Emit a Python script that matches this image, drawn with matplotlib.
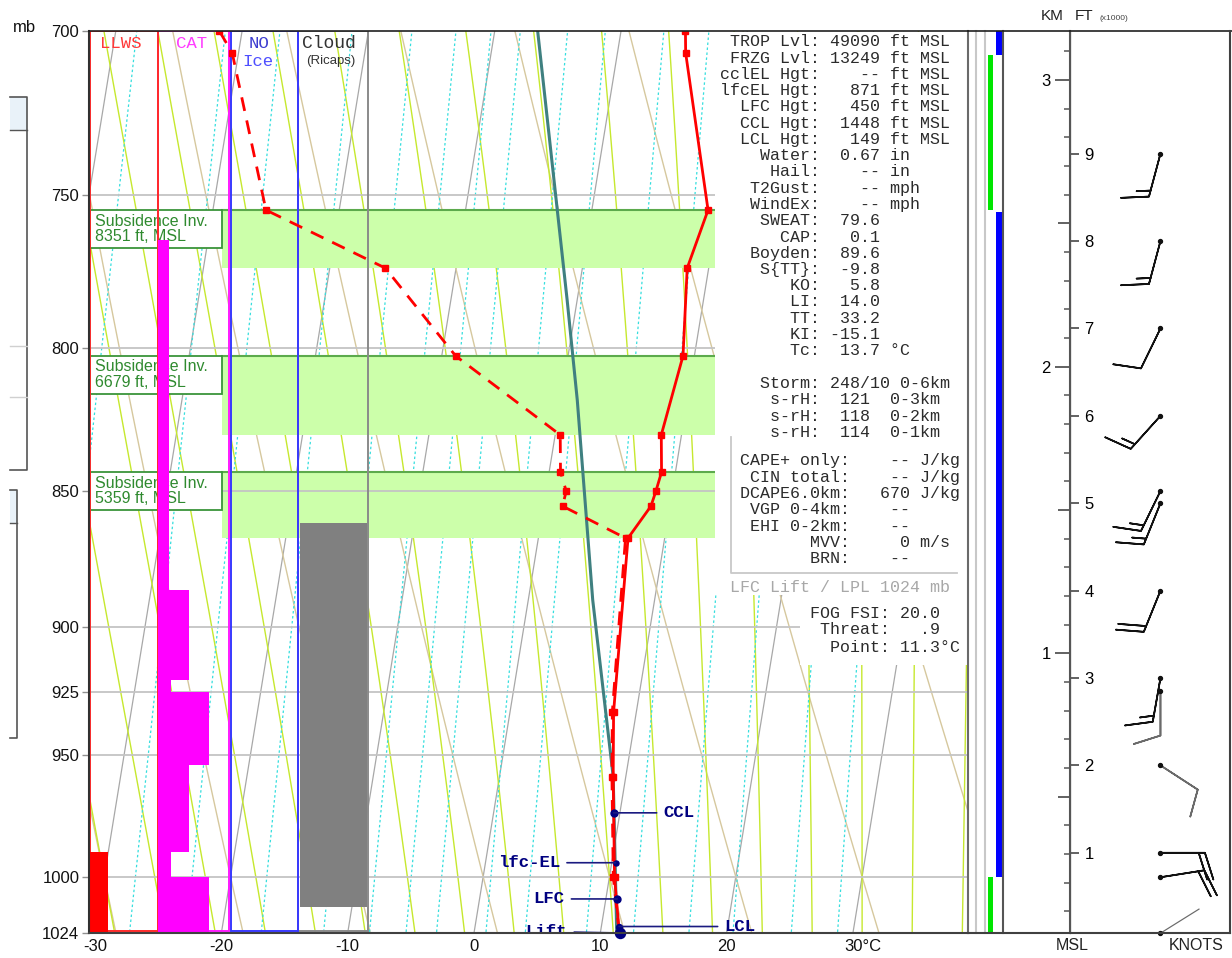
import numpy as np
import matplotlib
matplotlib.use('Agg')
import matplotlib.pyplot as plt
import matplotlib.transforms as mtransforms
from matplotlib.patches import Rectangle
from matplotlib.lines import Line2D
from matplotlib.ticker import NullLocator, FixedLocator, NullFormatter

plt.rcParams['font.family'] = ['Liberation Sans', 'DejaVu Sans']
MONO = ['Liberation Mono', 'DejaVu Sans Mono']

W, H = 1232, 958

# ---------------- sounding data ----------------
p_env = [700, 706.5, 754.9, 773.6, 802.8, 830.0, 843.1, 849.9, 855.3, 866.9, 932.9, 958.6, 1000, 1024]
temp = [5.1, 5.4, 9.2, 8.3, 9.1, 8.4, 8.9, 8.7, 8.5, 7.1, 8.2, 9.0, 10.4, 11.5]
dewp = [-31.8, -30.5, -25.8, -15.6, -8.9, 0.4, 0.9, 1.6, 1.5, 6.9, 8.1, 8.9, 10.3, 11.5]

p_parcel = [1024, 958.6, 889.8, 817.9, 784.0, 700]
t_parcel = [11.3, 9.0, 5.1, 1.3, -0.8, -6.6]

lvl_names = ['CCL', 'lfc-EL', 'LFC', 'LCL', 'Lift']
lvl_p = [973.4, 994.1, 1009.4, 1021.2, 1024]
lvl_t = [9.5, 10.3, 10.9, 11.4, 11.56]

inv_top = [754.9, 802.8, 843.1]
inv_bot = [773.6, 830.0, 866.9]
inv_hgt = [8351, 6679, 5359]

cat_top = [764.5, 886.1, 920.4, 925.0, 954.0, 989.6, 1000.1]
cat_bot = [886.1, 920.4, 925.0, 954.0, 989.6, 1000.1, 1024]
cat_lvl = [0.15, 0.44, 0.18, 0.72, 0.44, 0.18, 0.72]
llws_top, llws_bot, llws_lvl = [989.6], [1024], [0.26]
cloud_top, cloud_bot = [861.4], [1012.8]

green_top, green_bot = [707.1, 1000.1], [754.9, 1024]
blue_top, blue_bot = [700, 755.4], [707.1, 1000.1]

plevs = [700, 750, 800, 850, 900, 925, 950, 1000, 1024]
tticks = [-30, -20, -10, 0, 10, 20, 30]
tlabels = ['-30', '-20', '-10', '0', '10', '20', '30°C']

wind_ft = [9000, 8000, 7000, 6000, 5140, 5000, 4000, 3000, 2850, 2000, 1000, 720, 80]
wind_dir = [195, 195, 206, 222, 206, 202, 202, 190, 180, 123, 90, 81, 58]
wind_spd = [15, 15, 10, 15, 15, 15, 20, 15, 10, 10, 20, 20, 3]
wind_gray = [False] * 8 + [True, True, False, False, True]

info_labels = ['TROP Lvl', 'FRZG Lvl', 'cclEL Hgt', 'lfcEL Hgt', 'LFC Hgt', 'CCL Hgt', 'LCL Hgt',
               'Water', 'Hail', 'T2Gust', 'WindEx', 'SWEAT', 'CAP', 'Boyden', 'S{TT}', 'KO',
               'LI', 'TT', 'KI', 'Tc']
info_values = ['49090', '13249', '--', '871', '450', '1448', '149', '0.67', '--', '--', '--',
               '79.6', '0.1', '89.6', '-9.8', '5.8', '14.0', '33.2', '-15.1', '13.7']
info_units = ['ft MSL'] * 7 + ['in', 'in', 'mph', 'mph'] + [''] * 8 + ['°C']
storm_labels = ['Storm', 's-rH', 's-rH', 's-rH']
storm_values = ['248/10 0-6km', ' 121  0-3km', ' 118  0-2km', ' 114  0-1km']
cape_labels = ['CAPE+ only', 'CIN total', 'DCAPE6.0km', 'VGP 0-4km', 'EHI 0-2km', 'MVV', 'BRN']
cape_values = ['--', '--', '670', '--', '--', '0', '--']
cape_units = ['J/kg', 'J/kg', 'J/kg', '', '', 'm/s', '']
fog_labels = ['FOG FSI', 'Threat', 'Point']
fog_values = ['20.0', '.9', '11.3']
fog_units = ['', '', '°C']

# background line families
iso_t = np.arange(-110, 60, 10)
dry_theta = np.arange(-40, 80, 10)
moist_tw = np.arange(-30, 46, 4)
mix_w = [0.2, 0.4, 0.6, 1, 1.5, 2, 2.5, 3, 4, 5, 7, 9, 12, 15, 20, 25]

K = 30.6  # skew (deg C per unit ln p)


def skew(t, p):
    return np.asarray(t, float) + K * np.log(1024.0 / np.asarray(p, float))


def moist_line(tw):
    def rate(T, p):
        es = 6.112 * np.exp(17.67 * (T - 273.15) / (T - 29.65))
        rs = 0.622 * es / (p - es)
        return (287.04 * T + 2.501e6 * rs) / (p * (1005.7 + 2.501e6 ** 2 * rs * 0.622 / (287.04 * T * T)))
    parts = {}
    for step in (-2.0, 2.0):
        T, p = tw + 273.15, 1000.0
        ps, ts = [p], [T]
        while 680 < p < 1040:
            k1 = rate(T, p)
            k2 = rate(T + 0.5 * step * k1, p + 0.5 * step)
            k3 = rate(T + 0.5 * step * k2, p + 0.5 * step)
            k4 = rate(T + step * k3, p + step)
            T += step * (k1 + 2 * k2 + 2 * k3 + k4) / 6
            p += step
            ps.append(p)
            ts.append(T)
        parts[step] = (ps, ts)
    ps = parts[-2.0][0][::-1] + parts[2.0][0][1:]
    ts = parts[-2.0][1][::-1] + parts[2.0][1][1:]
    return np.array(ps), np.array(ts) - 273.15


def fx(px):
    return px / W


def fy(py):
    return 1 - py / H


def fline(xs, ys, **kw):
    fig.add_artist(Line2D([fx(x) for x in xs], [fy(y) for y in ys], transform=fig.transFigure, **kw))


def ftext(px, py, s, **kw):
    fig.text(fx(px), fy(py), s, **kw)


fig = plt.figure(figsize=(W / 100, H / 100), dpi=100)
fig.patch.set_facecolor('white')

ax = fig.add_axes([fx(89), fy(933), fx(968) - fx(89), fy(31) - fy(933)])
ax.set_yscale('log')
ax.set_ylim(1024, 700)
ax.set_xlim(-30.48, 39.11)
blend = mtransforms.blended_transform_factory(ax.transAxes, ax.transData)
LOGPX = np.log(1024 / 700) / 902.0

# background thermodynamic lines
pp = np.geomspace(1030, 690, 120)
for t0 in iso_t:
    ax.plot(skew(np.full_like(pp, t0), pp), pp, color='#a8a8a8', lw=0.9, zorder=1)
for th in dry_theta:
    ax.plot(skew((th + 273.15) * (pp / 1000) ** 0.2857 - 273.15, pp), pp, color='#d6c89e', lw=1.0, zorder=1)
for tw in moist_tw:
    mp, mt = moist_line(tw)
    ax.plot(skew(mt, mp), mp, color='#c6e82e', lw=1.0, zorder=1)
for w in mix_w:
    lg = np.log(pp * w / (622 + w) / 6.112)
    ax.plot(skew(243.5 * lg / (17.67 - lg), pp), pp, color='#35dede', lw=0.9, ls=(0, (2, 2)), zorder=1)

# subsidence inversions
for top, bot, hgt in zip(inv_top, inv_bot, inv_hgt):
    ax.add_patch(Rectangle((0.1513, top), 1 - 0.1513, bot - top, transform=blend,
                           facecolor='#ccffaa', edgecolor='none', zorder=1.5))
    ax.plot([0.1513, 1], [top, top], transform=blend, color='#5caa4c', lw=1.5, zorder=1.6)
    ax.add_patch(Rectangle((0.0017, top), 0.1513 - 0.0017, top * (np.exp(38 * LOGPX) - 1), transform=blend,
                           facecolor='white', edgecolor='#3a943a', lw=1.3, zorder=2))
    ax.annotate('Subsidence Inv.\n%d ft, MSL' % hgt, xy=(0.0068, top), xycoords=blend,
                xytext=(0, -2.5), textcoords='offset points', ha='left', va='top',
                fontsize=11.5, linespacing=1.08, color='#2f8a2f', zorder=2.1)

for p in plevs[1:-1]:
    ax.axhline(p, color='#c4c4c4', lw=1.3, zorder=1.8)

# hazard columns
col_edges = [0.0017, 0.0785, 0.1593, 0.2378, 0.3174]
col_colors = ['#ff2a2a', '#ff19ff', '#3838ff', '#8a8a8a']
for i in [3, 2, 1, 0]:
    x0 = col_edges[i] + (0.0017 if i == 2 else 0)
    ax.add_patch(Rectangle((x0, 700), col_edges[i + 1] - x0, 1023 - 700, transform=blend,
                           facecolor='none', edgecolor=col_colors[i], lw=1.4, zorder=2.2))
cw = col_edges[2] - col_edges[1]
for top, bot, lv in zip(cat_top, cat_bot, cat_lvl):
    ax.add_patch(Rectangle((col_edges[1], top), lv * cw, bot - top, transform=blend,
                           facecolor='#ff00ff', edgecolor='none', zorder=2.4))
for top, bot, lv in zip(llws_top, llws_bot, llws_lvl):
    ax.add_patch(Rectangle((col_edges[0], top), lv * (col_edges[1] - col_edges[0]), bot - top,
                           transform=blend, facecolor='#ff0000', edgecolor='none', zorder=2.4))
for top, bot in zip(cloud_top, cloud_bot):
    x0 = col_edges[3] + 0.03 * cw
    ax.add_patch(Rectangle((x0, top), col_edges[4] - x0 - 0.012 * cw, bot - top, transform=blend,
                           facecolor='#808080', edgecolor='none', zorder=2.4))

# profiles
ax.plot(skew(t_parcel, p_parcel), p_parcel, color='#3f8080', lw=2.2, zorder=3)
ax.plot(skew(dewp, p_env), p_env, color='#ff0000', lw=2, ls=(0, (5, 3.5)), marker='s', ms=4, zorder=3.5)
ax.plot(skew(temp, p_env), p_env, color='#ff0000', lw=2, marker='s', ms=4, zorder=3.6)

# parcel levels
offs = [(36, 0), (-40, 0), (-38, 0), (76, 0), (-38, 1)]
sizes = [5, 3.6, 5, 4.3, 7.2]
for name, p, t, off, ms in zip(lvl_names, lvl_p, lvl_t, offs, sizes):
    x = skew(t, p)
    ax.plot([x], [p], 'o', color='#000080', ms=ms, zorder=4.5, clip_on=False)
    an = ax.annotate(name, xy=(x, p), xytext=off, textcoords='offset points',
                     ha='left' if off[0] > 0 else 'right', va='center', fontsize=12.5,
                     family=MONO, fontweight='bold', color='#000080', zorder=4.5,
                     arrowprops=dict(arrowstyle='-', color='#1a1a80', lw=1.2, shrinkA=3, shrinkB=0))
    if name == 'Lift':
        an.set_clip_path(ax.patch)
        an.set_clip_on(True)

# axis styling
ax.set_yticks(plevs)
ax.set_yticklabels([str(p) for p in plevs])
ax.yaxis.set_minor_locator(NullLocator())
ax.yaxis.set_minor_formatter(NullFormatter())
ax.set_xticks(tticks)
ax.set_xticklabels(tlabels)
ax.tick_params(axis='y', length=5, width=1, color='#909090', labelsize=12, pad=2, labelcolor='#111111')
ax.tick_params(axis='x', length=0, labelsize=12, pad=4, labelcolor='#111111')
last = ax.get_xticklabels()[-1]
last.set_transform(last.get_transform() + mtransforms.ScaledTranslation(10 / 100, 0, fig.dpi_scale_trans))
for side, col, lw in [('left', '#303030', 1.5), ('top', '#202020', 1.2),
                      ('bottom', '#404040', 1.5), ('right', '#6a6a6a', 1.5)]:
    ax.spines[side].set_color(col)
    ax.spines[side].set_linewidth(lw)
    ax.spines[side].set_zorder(10)

# text panels (white boxes over the diagram)
ax.add_patch(Rectangle(((715 - 89) / 879, (933 - 595) / 902), (967 - 715) / 879, (595 - 32) / 902,
                       transform=ax.transAxes, facecolor='white', edgecolor='none', zorder=5))
ax.add_patch(Rectangle(((800 - 89) / 879, (933 - 665) / 902), (967 - 800) / 879, (665 - 595) / 902,
                       transform=ax.transAxes, facecolor='white', edgecolor='none', zorder=5))
fline([731, 731, 957], [437, 573, 573], color='#c8c8c8', lw=1.3, zorder=6)

tk = dict(family=MONO, fontsize=12, color='#2b2b2b', va='center', ha='left')
for i, (lab, val, unit) in enumerate(zip(info_labels, info_values, info_units)):
    ftext(720, 42 + i * 16.25, f"{lab + ':':>10} {val:>5} {unit}", **tk)
for i, (lab, val) in enumerate(zip(storm_labels, storm_values)):
    ftext(720, 383 + i * 16.5, f"{lab + ':':>10} {val}", **tk)
for i, (lab, val, unit) in enumerate(zip(cape_labels, cape_values, cape_units)):
    ftext(740, 461 + i * 16.3, f"{lab + ':':>11} {val:>5} {unit}", **tk)
ftext(730, 588, 'LFC Lift / LPL 1024 mb', family=MONO, fontsize=12, color='#a8a8a8', va='center')
for i, (lab, val, unit) in enumerate(zip(fog_labels, fog_values, fog_units)):
    ftext(810, 613 + i * 17, f"{lab + ':':>8} {val:>4}{unit}", **tk)

# column headers
hk = dict(family=MONO, fontsize=12.5, ha='center', va='center')
ftext(121, 43, 'LLWS', color='#ff3838', **hk)
ftext(192, 43, 'CAT', color='#ff3cff', **hk)
ftext(259, 43, 'NO', color='#3d3dd0', **hk)
ftext(258, 62, 'Ice', color='#4f4fff', **hk)
ftext(329, 43, 'Cloud', color='#333333', family=MONO, fontsize=13, ha='center', va='center')
ftext(331, 61, '(Ricaps)', color='#333333', fontsize=9.5, ha='center', va='center')
ftext(24, 28, 'mb', fontsize=12, color='#111111', ha='center', va='center')

# right strip (green / blue bars)
axS = fig.add_axes([fx(968), fy(933), fx(1003) - fx(968), fy(31) - fy(933)])
axS.set_yscale('log')
axS.set_ylim(1024, 700)
axS.set_xlim(968, 1003)
axS.axis('off')
for t, b in zip(green_top, green_bot):
    axS.fill_betweenx([t, b], 988, 993, color='#00e600', lw=0)
for t, b in zip(blue_top, blue_bot):
    axS.fill_betweenx([t, b], 996, 1002, color='#0000ff', lw=0)
fline([976, 976], [31, 933], color='#c8c8c8', lw=1.5)
fline([985, 985], [31, 933], color='#c8c8c8', lw=1.5)
fline([1003, 1003], [31, 933], color='#555555', lw=1.5)
fline([968, 1232], [31, 31], color='#202020', lw=1.2)
fline([968, 1230], [933, 933], color='#404040', lw=1.5)
fline([1230, 1230], [31, 933], color='#404040', lw=1.5)

# altitude / wind panel
axA = fig.add_axes([fx(1070), fy(933), fx(1229) - fx(1070), fy(31) - fy(933)])
axA.set_ylim(25, 3171)
axA.set_xlim(0, 1)
axA.patch.set_alpha(0)
for side in ['top', 'right', 'bottom']:
    axA.spines[side].set_visible(False)
axA.spines['left'].set_color('#555555')
axA.spines['left'].set_linewidth(1.5)
axA.set_xticks([])
axA.set_yticks([1000, 2000, 3000])
axA.set_yticklabels(['1', '2', '3'])
axA.yaxis.set_minor_locator(FixedLocator([m for m in range(100, 3200, 100) if m % 500]))
axA.tick_params(axis='y', which='major', length=11, width=1.3, color='#555555', labelsize=12, pad=3)
axA.tick_params(axis='y', which='minor', length=4.3, width=1.1, color='#555555')
sk = axA.secondary_yaxis(0.0, functions=(lambda v: v, lambda v: v))
sk.set_yticks([500, 1500, 2500])
sk.set_yticklabels(['', '', ''])
sk.tick_params(length=8.6, width=1.3, color='#555555')
sk.spines['left'].set_color('#555555')
sf = axA.secondary_yaxis(0.0, functions=(lambda m: m / 304.8, lambda f: f * 304.8))
sf.set_alignment('right')
sf.set_yticks(range(1, 10))
sf.yaxis.set_minor_locator(NullLocator())
sf.tick_params(length=6.5, width=1.3, color='#555555', labelsize=12, pad=4)
sf.spines['right'].set_color('#555555')

zw = np.array(wind_ft) * 0.3048
rad = np.radians(wind_dir)
spd = np.array(wind_spd, float)
u = -spd * np.sin(rad)
v = -spd * np.cos(rad)
gray = np.array(wind_gray)
calm = spd < 5
xb = np.full(len(zw), 0.569)
bk = dict(length=8, sizes=dict(height=0.6, width=0.38, spacing=0.14), linewidth=1.2, zorder=4)
m1 = ~gray & ~calm
m2 = gray & ~calm
axA.barbs(xb[m1], zw[m1], u[m1], v[m1], barbcolor='#111111', **bk)
axA.barbs(xb[m2], zw[m2], u[m2], v[m2], barbcolor='#6a6a6a', **bk)
axA.quiver(xb[calm], zw[calm], np.sin(rad[calm]), np.cos(rad[calm]), angles='uv', pivot='tail',
           scale_units='inches', scale=1 / 0.46, units='dots', width=1.2,
           headwidth=0, headlength=0, headaxislength=0, color='#6a6a6a', zorder=4)
axA.scatter(xb, zw, s=8, color='#111111', zorder=5, clip_on=False)

ftext(1052, 16, 'KM', fontsize=11, color='#222222', ha='center', va='center')
ftext(1084, 16, 'FT', fontsize=11, color='#222222', ha='center', va='center')
ftext(1114, 18, '(x1000)', fontsize=6, color='#444444', ha='center', va='center')
ftext(1072, 946, 'MSL', fontsize=11.5, color='#222222', ha='center', va='center')
ftext(1196, 946, 'KNOTS', fontsize=11.5, color='#222222', ha='center', va='center')

# partial side panels on the left edge
fig.add_artist(Rectangle((fx(10), fy(130)), fx(27) - fx(10), fy(97) - fy(130), transform=fig.transFigure,
                         facecolor='#e9f2f9', edgecolor='none'))
fig.add_artist(Rectangle((fx(10), fy(523)), fx(17) - fx(10), fy(490) - fy(523), transform=fig.transFigure,
                         facecolor='#e9f2f9', edgecolor='none'))
fline([10, 27, 27, 10], [97, 97, 470, 470], color='#555555', lw=1.2)
fline([10, 27], [130, 130], color='#555555', lw=1.0)
fline([10, 27], [346, 346], color='#d0d0d0', lw=1.0)
fline([10, 27], [397, 397], color='#d0d0d0', lw=1.0)
fline([10, 17, 17, 10], [490, 490, 738, 738], color='#555555', lw=1.2)
fline([10, 17], [523, 523], color='#555555', lw=1.0)

fig.savefig('out.png', dpi=100)
